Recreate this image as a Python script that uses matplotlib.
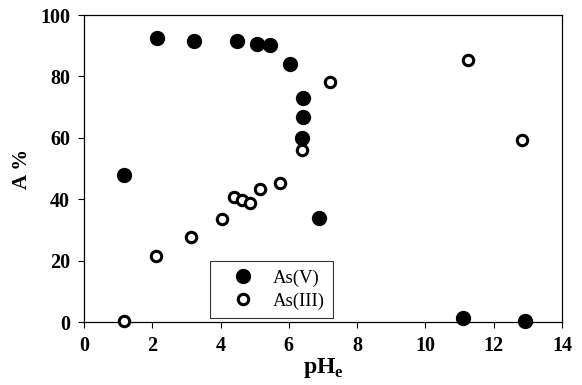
import matplotlib.pyplot as plt

# data
ph_v = [1.17, 2.14, 3.22, 4.48, 5.07, 5.45, 6.03, 6.41, 6.41, 6.38, 6.88, 11.1, 12.92]
a_v = [48, 92.5, 91.5, 91.5, 90.5, 90.2, 84, 73, 66.8, 60, 34, 1.3, 0.2]

ph_iii = [1.17, 2.11, 3.13, 4.04, 4.39, 4.63, 4.86, 5.15, 5.74, 6.39, 7.21, 11.25, 12.83]
a_iii = [0.3, 21.5, 27.7, 33.5, 40.7, 39.7, 38.8, 43.3, 45.3, 56, 78.2, 85.3, 59.3]

x_ticks = [0, 2, 4, 6, 8, 10, 12, 14]
y_ticks = [0, 20, 40, 60, 80, 100]

plt.rcParams['font.family'] = ['Liberation Serif', 'DejaVu Serif']
plt.rcParams['mathtext.fontset'] = 'custom'
plt.rcParams['mathtext.rm'] = 'Liberation Serif'
plt.rcParams['mathtext.bf'] = 'Liberation Serif:bold'

fig = plt.figure(figsize=(5.82, 3.85), dpi=100)
ax = fig.add_axes([0.1443, 0.1636, 0.8213, 0.7974])

ax.plot(ph_v, a_v, 'o', color='black', markersize=10, clip_on=False,
        label='As(V)', zorder=3)
ax.plot(ph_iii, a_iii, 'o', markerfacecolor='white', markeredgecolor='black',
        markersize=7.5, markeredgewidth=2.2, clip_on=False, label='As(III)', zorder=3)

ax.set_xlim(0, 14)
ax.set_ylim(0, 100)
ax.set_xticks(x_ticks)
ax.set_yticks(y_ticks)
ax.tick_params(direction='out', length=4, width=0.8, labelsize=14.5, pad=6)
for lbl in ax.get_xticklabels() + ax.get_yticklabels():
    lbl.set_fontweight('bold')

ax.set_xlabel('pH$_\\mathbf{e}$', fontsize=17, fontweight='bold', labelpad=0)
ax.set_ylabel('A %', fontsize=15, fontweight='bold', labelpad=6)

for s in ax.spines.values():
    s.set_linewidth(0.9)

leg = ax.legend(loc='lower left', bbox_to_anchor=(0.2636, 0.013),
                borderaxespad=0, fontsize=13.5, frameon=True, fancybox=False,
                edgecolor='black', handletextpad=0.3, borderpad=0.45,
                labelspacing=0.3, handlelength=2.6)
leg.get_frame().set_linewidth(0.8)

fig.savefig('out.png', dpi=100)
